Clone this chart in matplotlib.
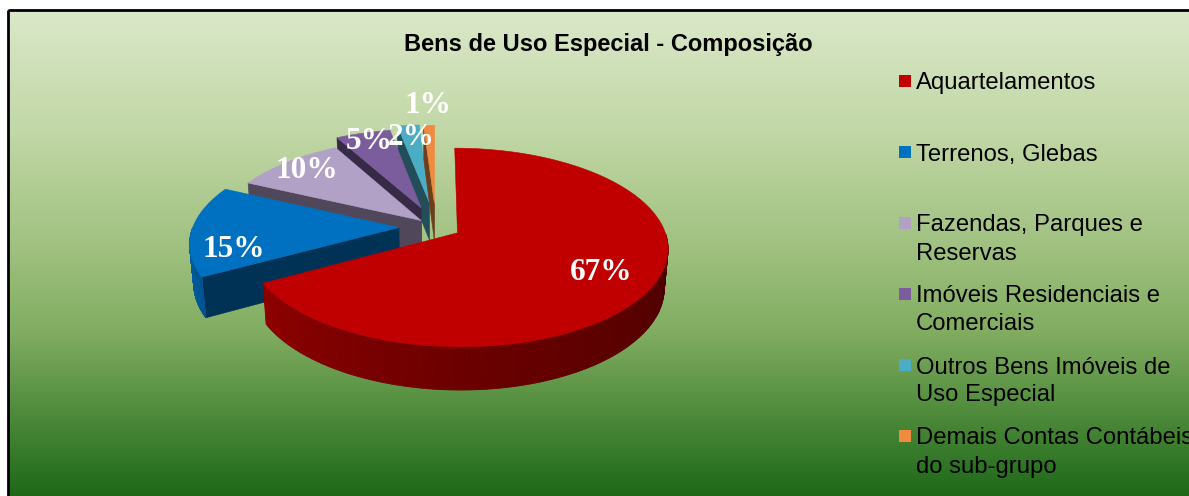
"""Bens de Uso Especial - exploded 3D pie with legend on the right."""

import numpy as np
import matplotlib
matplotlib.use("Agg")
import matplotlib.pyplot as plt
from matplotlib.colors import LinearSegmentedColormap, to_rgb
from matplotlib.patches import Polygon, Rectangle
from matplotlib.collections import PolyCollection

title = "Bens de Uso Especial - Composição"
categories = [
    "Aquartelamentos",
    "Terrenos, Glebas",
    "Fazendas, Parques e\nReservas",
    "Imóveis Residenciais e\nComerciais",
    "Outros Bens Imóveis de\nUso Especial",
    "Demais Contas Contábeis\ndo sub-grupo",
]
shares = [67, 15, 10, 5, 2, 1]
colors = ["#c00000", "#0070c0", "#b2a1c7", "#7b5d9e", "#4bacc6", "#f08a3e"]
explode = [0.12, 0.18, 0.10, 0.22, 0.27, 0.26]
label_r = [0.75, 0.80, 0.84, 0.88, 0.82, 1.30]
label_dphi = [0, 14, 0, 0, 0, 0]  # degrees, nudges the 15% label down a bit

bg_stops = [(0.0, "#dbe8c9"), (0.25, "#c1d7a5"), (0.5, "#9dbf7d"),
            (0.66, "#80ac60"), (0.8, "#558f40"), (1.0, "#1a6616")]

# simple perspective camera (pixel space, y down)
CX, CY, SCALE = 436.0, 227.0, 206.0
ALPHA = np.radians(27.6)
SA, CA = np.sin(ALPHA), np.cos(ALPHA)
DIST = 6.09
DEPTH = 0.215

W, H = 1189, 496
FONT = "Liberation Sans"


def proj(X, Y, Z):
    X, Y, Z = np.broadcast_arrays(np.asarray(X, float), np.asarray(Y, float), np.asarray(Z, float))
    v = Y * SA + Z * CA
    w = DIST + Y * CA - Z * SA
    k = DIST / w
    return np.column_stack([CX + SCALE * X * k, CY - SCALE * v * k])


def shade(c, f):
    r, g, b = to_rgb(c)
    return (r * f, g * f, b * f)


def wall_factor(phi_deg):
    return np.interp(phi_deg, [180, 210, 270, 360], [0.92, 0.74, 0.56, 0.38])


fig = plt.figure(figsize=(W / 100, H / 100), dpi=100)
fig.patch.set_facecolor("white")
ax = fig.add_axes([0, 0, 1, 1])
ax.set_xlim(0, W)
ax.set_ylim(H, 0)
ax.axis("off")

# gradient chart area + frame
cmap = LinearSegmentedColormap.from_list("bg", bg_stops)
grad = np.linspace(0, 1, 256)[:, None]
ax.imshow(grad, cmap=cmap, aspect="auto", extent=(8, W + 6, H + 6, 10),
          origin="upper", zorder=0, interpolation="bilinear")
ax.add_patch(Rectangle((8, 10), W - 2, H - 4, fill=False, ec="black", lw=2, zorder=1))

ax.text(608, 45, title, ha="center", va="center", fontsize=17,
        fontweight="bold", family=FONT, color="black", zorder=20)

# slice geometry
total = float(sum(shares))
slices = []
hi = 90.0
for i, s in enumerate(shares):
    lo = hi - 360.0 * s / total
    mid = np.radians(0.5 * (lo + hi))
    ox, oy = explode[i] * np.cos(mid), explode[i] * np.sin(mid)
    slices.append(dict(i=i, lo=lo, hi=hi, mid=mid, ox=ox, oy=oy))
    hi = lo

# painter's order: far slices first
order = sorted(slices, key=lambda d: -(d["oy"] + 0.5 * np.sin(d["mid"])))

z = 2
for sl in order:
    i, lo, hi, ox, oy = sl["i"], sl["lo"], sl["hi"], sl["ox"], sl["oy"]
    col = colors[i]

    # radial cut faces
    for ang, vis in ((hi, np.cos(np.radians(hi)) < -1e-6), (lo, np.cos(np.radians(lo)) > 1e-6)):
        if not vis:
            continue
        a = np.radians(ang)
        rx, ry = ox + np.cos(a), oy + np.sin(a)
        quad = proj([ox, rx, rx, ox], [oy, ry, ry, oy], [0, 0, -DEPTH, -DEPTH])
        ax.add_patch(Polygon(quad, closed=True, fc=shade(col, 0.45),
                             ec=shade(col, 0.45), lw=0.5, zorder=z))

    # outer wall (front half only)
    t = np.radians(np.linspace(lo, hi, 240))
    front = np.sin(t) <= 1e-9
    if front.sum() > 1:
        tt = t[front]
        top = proj(ox + np.cos(tt), oy + np.sin(tt), 0.0)
        bot = proj(ox + np.cos(tt), oy + np.sin(tt), -DEPTH)
        phi = np.degrees(tt) % 360
        phi[phi < 90] += 360
        polys, fcs = [], []
        for k in range(len(tt) - 1):
            polys.append([top[k], top[k + 1], bot[k + 1], bot[k]])
            fcs.append(shade(col, wall_factor(0.5 * (phi[k] + phi[k + 1]))))
        ax.add_collection(PolyCollection(polys, facecolors=fcs, edgecolors=fcs,
                                         linewidths=0.6, zorder=z + 0.1))

    # top face
    t = np.radians(np.linspace(hi, lo, 240))
    xs = np.concatenate([[ox], ox + np.cos(t)])
    ys = np.concatenate([[oy], oy + np.sin(t)])
    ax.add_patch(Polygon(proj(xs, ys, 0.0), closed=True, fc=col, ec=col,
                         lw=0.4, zorder=z + 0.2))
    z += 1

# percentage labels
for sl in slices:
    i = sl["i"]
    a = sl["mid"] + np.radians(label_dphi[i])
    p = proj(sl["ox"] + label_r[i] * np.cos(a), sl["oy"] + label_r[i] * np.sin(a), 0.0)[0]
    ax.text(p[0], p[1], f"{shares[i]}%", ha="center", va="center", color="white",
            fontsize=22.5, fontweight="bold", family="Liberation Serif", zorder=30)

# legend
leg_x, leg_y0, leg_step, line_h = 899, 81, 71, 28
for i, lab in enumerate(categories):
    y = leg_y0 + leg_step * i
    ax.add_patch(Rectangle((leg_x, y - 6), 12, 12, fc=colors[i], ec="none", zorder=25))
    for j, line in enumerate(lab.split("\n")):
        ax.text(leg_x + 17, y + j * line_h, line, ha="left", va="center_baseline",
                fontsize=17.2, family=FONT, color="black", zorder=25)

fig.savefig("out.png", dpi=100, facecolor="white")
